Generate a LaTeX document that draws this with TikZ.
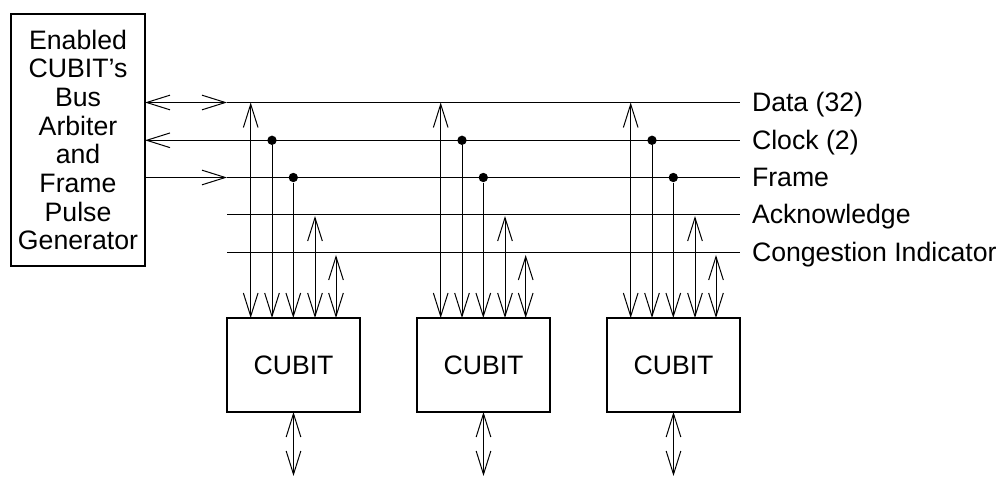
\documentclass[tikz,border=0pt]{standalone}
\usepackage{fontspec}
\setmainfont{Liberation Sans}
\usetikzlibrary{%
  arrows.meta,%
  positioning% wg. " of "
}
\tikzset{
  box/.style={draw,line width=1.5pt,outer sep=0pt,inner sep=0pt,align=center},
  tap/.style={circle,fill=black,inner sep=0pt,minimum size=7pt},
  lbl/.style={anchor=base west,inner sep=0pt,inner xsep=9pt,outer sep=0pt},
}
\begin{document}
\begin{tikzpicture}[x=0.75pt,y=-0.75pt,line width=0.75pt,
    >={Straight Barb[length=17.5pt,width=11pt,line width=0.75pt]},
    every node/.append style={font=\fontsize{20}{21.5}\selectfont}]
    \useasboundingbox (0,0) rectangle (997,477);

    %arbiter
    \node[box,minimum width=100.5pt,minimum height=189pt] (arbiter) at (78,140) {Enabled\\CUBIT's\\Bus\\Arbiter\\and\\Frame\\Pulse\\Generator};

    %cubit row
    \node[box,minimum width=100pt,minimum height=70.5pt] (cubit_1) at (293.5,365) {CUBIT};
    \node[box,minimum width=100pt,minimum height=70.5pt] (cubit_2) [right=42.5pt of cubit_1] {CUBIT};
    \node[box,minimum width=100pt,minimum height=70.5pt] (cubit_3) [right=42.5pt of cubit_2] {CUBIT};

    %bus labels
    \node[lbl] (data) at (740,112) {Data (32)};
    \node[lbl] (clock) at (740,149.5) {Clock (2)};
    \node[lbl] (frame) at (740,187) {Frame};
    \node[lbl] (ack) at (740,224) {Acknowledge};
    \node[lbl] (cong) at (740,261.5) {Congestion Indicator};

    %free ends
    \coordinate (data_0) at (227,102.5);
    \coordinate (clock_0) at (227,140.3);
    \coordinate (frame_0) at (227,177.5);
    \coordinate (ack_0) at (227,215);
    \coordinate (cong_0) at (227,252.3);

    %bus lines
    \draw (data_0) -- (data_0 -| data.west);
    \draw (clock_0) -- (clock_0 -| clock.west);
    \draw (frame_0) -- (frame_0 -| frame.west);
    \draw (ack_0) -- (ack_0 -| ack.west);
    \draw (cong_0) -- (cong_0 -| cong.west);

    %arbiter to bus
    \draw[<->] (arbiter.east |- data_0) -- (data_0);
    \draw[<-] (arbiter.east |- clock_0) -- (clock_0);
    \draw[->] (arbiter.east |- frame_0) -- (frame_0);

    %tap points
    \coordinate (d_1) at (250.7,102.5);
    \node[tap] (c_1) at (272,140.3) {};
    \node[tap] (f_1) at (293.3,177.5) {};
    \coordinate (a_1) at (315,216);
    \coordinate (g_1) at (336,255);

    \coordinate (d_2) at (440.7,102.5);
    \node[tap] (c_2) at (462,140.3) {};
    \node[tap] (f_2) at (483.3,177.5) {};
    \coordinate (a_2) at (505,216);
    \coordinate (g_2) at (525.7,255);

    \coordinate (d_3) at (630.7,102.5);
    \node[tap] (c_3) at (652,140.3) {};
    \node[tap] (f_3) at (673.3,177.5) {};
    \coordinate (a_3) at (695,216);
    \coordinate (g_3) at (716,255);

    %cubit 1
    \draw[<->] (d_1) -- (d_1 |- cubit_1.north);
    \draw[->] (c_1) -- (c_1 |- cubit_1.north);
    \draw[->] (f_1) -- (f_1 |- cubit_1.north);
    \draw[<->] (a_1) -- (a_1 |- cubit_1.north);
    \draw[<->] (g_1) -- (g_1 |- cubit_1.north);

    %cubit 2
    \draw[<->] (d_2) -- (d_2 |- cubit_2.north);
    \draw[->] (c_2) -- (c_2 |- cubit_2.north);
    \draw[->] (f_2) -- (f_2 |- cubit_2.north);
    \draw[<->] (a_2) -- (a_2 |- cubit_2.north);
    \draw[<->] (g_2) -- (g_2 |- cubit_2.north);

    %cubit 3
    \draw[<->] (d_3) -- (d_3 |- cubit_3.north);
    \draw[->] (c_3) -- (c_3 |- cubit_3.north);
    \draw[->] (f_3) -- (f_3 |- cubit_3.north);
    \draw[<->] (a_3) -- (a_3 |- cubit_3.north);
    \draw[<->] (g_3) -- (g_3 |- cubit_3.north);

    %ports below
    \coordinate (p_1) at (cubit_1.south |- 0,476);
    \coordinate (p_2) at (cubit_2.south |- 0,476);
    \coordinate (p_3) at (cubit_3.south |- 0,476);
    \draw[<->] (cubit_1) -- (p_1);
    \draw[<->] (cubit_2) -- (p_2);
    \draw[<->] (cubit_3) -- (p_3);
\end{tikzpicture}
\end{document}
